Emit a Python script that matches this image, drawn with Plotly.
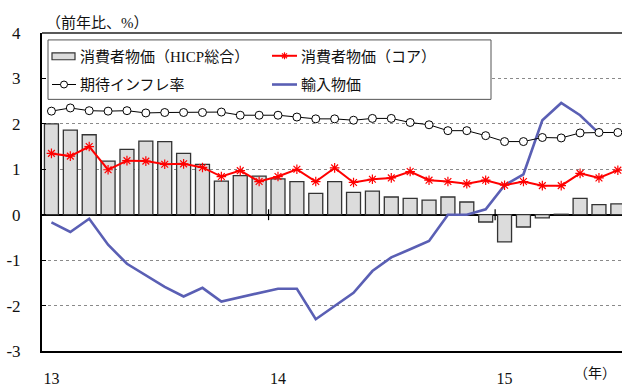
import plotly.graph_objects as go

# ---- data (monthly, Jan 2013 - Jul 2015) ----
months = [f"{y}-{m:02d}" for y in (2013, 2014, 2015) for m in range(1, 13)][:31]
year_labels = ["13", "14", "15"]
y_ticks = [-3, -2, -1, 0, 1, 2, 3, 4]
y_tick_labels = ["-3", "-2", "-1", "0", "1", "2", "3", "4"]

hicp = [2.00, 1.86, 1.76, 1.18, 1.44, 1.62, 1.61, 1.35, 1.11, 0.74, 0.86, 0.85,
        0.79, 0.73, 0.47, 0.73, 0.49, 0.52, 0.39, 0.36, 0.32, 0.39, 0.28, -0.16,
        -0.60, -0.27, -0.07, 0.01, 0.36, 0.22, 0.24]
core = [1.35, 1.29, 1.50, 0.99, 1.19, 1.18, 1.11, 1.12, 1.04, 0.84, 0.97, 0.73,
        0.84, 1.00, 0.73, 1.03, 0.71, 0.78, 0.81, 0.95, 0.76, 0.73, 0.68, 0.76,
        0.65, 0.73, 0.64, 0.64, 0.91, 0.81, 0.98]
expect = [2.28, 2.35, 2.29, 2.28, 2.29, 2.24, 2.25, 2.25, 2.25, 2.26, 2.19, 2.19,
          2.19, 2.15, 2.11, 2.11, 2.08, 2.12, 2.12, 2.03, 1.98, 1.85, 1.85, 1.74,
          1.61, 1.61, 1.70, 1.69, 1.80, 1.81, 1.81]
imports = [-0.17, -0.38, -0.09, -0.66, -1.08, -1.34, -1.59, -1.80, -1.61, -1.91, -1.82, -1.72,
           -1.63, -1.63, -2.30, -2.01, -1.72, -1.24, -0.94, -0.76, -0.58, 0.00, 0.00, 0.12,
           0.65, 0.89, 2.08, 2.46, 2.19, 1.79, None]

names = ["消費者物価（HICP総合）", "消費者物価（コア）", "期待インフレ率", "輸入物価"]

x = list(range(len(months)))
year_starts = [i for i, m in enumerate(months) if m.endswith("-01")]

W, H = 622, 387
ML, MR, MT, MB = 42, 0, 33, 33
PW, PH = W - ML - MR, H - MT - MB

def px(v):
    return (v - ML) / PW

def py(v):
    return (H - MB - v) / PH

SERIF = "Liberation Serif, Noto Sans CJK JP, serif"
BLUE = "#5a5fb4"

fig = go.Figure()
fig.add_trace(go.Bar(x=x, y=hicp, name=names[0], width=0.74,
                     marker=dict(color="#dcdcdc", line=dict(color="#333333", width=1.3))))
fig.add_trace(go.Scatter(x=x, y=imports, name=names[3], mode="lines",
                         line=dict(color=BLUE, width=2.6)))
fig.add_trace(go.Scatter(x=x, y=expect, name=names[2], mode="lines+markers",
                         line=dict(color="#000000", width=1),
                         marker=dict(symbol="circle", size=8, color="white",
                                     line=dict(color="#000000", width=1))))
fig.add_trace(go.Scatter(x=x, y=core, name=names[1], mode="lines+markers",
                         line=dict(color="#ff0000", width=2),
                         marker=dict(symbol="asterisk-open", size=8,
                                     line=dict(color="#ff0000", width=1.2))))

shapes = []
# year boundary ticks crossing the zero line
for i in year_starts[1:]:
    shapes.append(dict(type="line", xref="x", yref="y", x0=i - 0.5, x1=i - 0.5,
                       y0=-0.12, y1=0.12, line=dict(color="black", width=1.2)))
# top border
shapes.append(dict(type="line", xref="paper", yref="paper", x0=0, x1=1, y0=1, y1=1,
                   line=dict(color="#222222", width=1.5)))
# legend box
shapes.append(dict(type="rect", xref="paper", yref="paper", x0=px(48), x1=px(491),
                   y0=py(100), y1=py(40), fillcolor="white",
                   line=dict(color="#555555", width=1), layer="above"))
# legend symbols
shapes.append(dict(type="rect", xref="paper", yref="paper", x0=px(52), x1=px(75),
                   y0=py(60), y1=py(53), fillcolor="#dcdcdc",
                   line=dict(color="#333333", width=1.2), layer="above"))
shapes.append(dict(type="line", xref="paper", yref="paper", x0=px(272), x1=px(297),
                   y0=py(56), y1=py(56), line=dict(color="#ff0000", width=2), layer="above"))
cx, cy, r = 284.5, 56, 3.5
for dx, dy in [(r, 0), (0, r), (r * 0.7, r * 0.7), (r * 0.7, -r * 0.7)]:
    shapes.append(dict(type="line", xref="paper", yref="paper",
                       x0=px(cx - dx), x1=px(cx + dx), y0=py(cy - dy), y1=py(cy + dy),
                       line=dict(color="#ff0000", width=1.2), layer="above"))
shapes.append(dict(type="line", xref="paper", yref="paper", x0=px(52), x1=px(76),
                   y0=py(85), y1=py(85), line=dict(color="#000000", width=1), layer="above"))
shapes.append(dict(type="circle", xref="paper", yref="paper", x0=px(60.5), x1=px(67.5),
                   y0=py(88.5), y1=py(81.5), fillcolor="white",
                   line=dict(color="#000000", width=1), layer="above"))
shapes.append(dict(type="line", xref="paper", yref="paper", x0=px(272), x1=px(297),
                   y0=py(85), y1=py(85), line=dict(color=BLUE, width=2.6), layer="above"))

annotations = []
leg_pos = [(78, 57), (299, 57), (78, 85), (299, 85)]
for name, (lx, ly) in zip(names, leg_pos):
    annotations.append(dict(text=name, xref="paper", yref="paper", x=px(lx), y=py(ly),
                            xanchor="left", yanchor="middle", showarrow=False,
                            font=dict(family=SERIF, size=15, color="#111111")))
annotations.append(dict(text="（前年比、%）", xref="paper", yref="paper", x=px(44), y=py(23),
                        xanchor="left", yanchor="middle", showarrow=False,
                        font=dict(family=SERIF, size=15, color="#111111")))
annotations.append(dict(text="（年）", xref="paper", yref="paper", x=px(618), y=py(377),
                        xanchor="right", yanchor="middle", showarrow=False,
                        font=dict(family=SERIF, size=14, color="#111111")))

fig.update_layout(
    width=W, height=H,
    margin=dict(l=ML, r=MR, t=MT, b=MB, pad=0),
    paper_bgcolor="white", plot_bgcolor="white",
    showlegend=False,
    shapes=shapes,
    annotations=annotations,
    font=dict(family=SERIF, size=15, color="#111111"),
)
fig.update_xaxes(
    range=[-0.5, 30.22],
    tickvals=year_starts, ticktext=year_labels,
    ticks="", showgrid=False, zeroline=False,
    showline=True, linecolor="black", linewidth=2,
    ticklabelstandoff=12,
    tickfont=dict(family=SERIF, size=16, color="#111111"),
)
fig.update_yaxes(
    range=[-3, 4], tickvals=y_ticks, ticktext=y_tick_labels,
    ticks="inside", ticklen=4, tickcolor="black", tickwidth=1,
    showgrid=True, gridcolor="#8a8a8a", griddash="dot", gridwidth=1,
    zeroline=True, zerolinecolor="black", zerolinewidth=2.2,
    showline=True, linecolor="black", linewidth=2,
    ticklabelstandoff=16,
    tickfont=dict(family=SERIF, size=17, color="#111111"),
)

fig.write_html("out.html")
